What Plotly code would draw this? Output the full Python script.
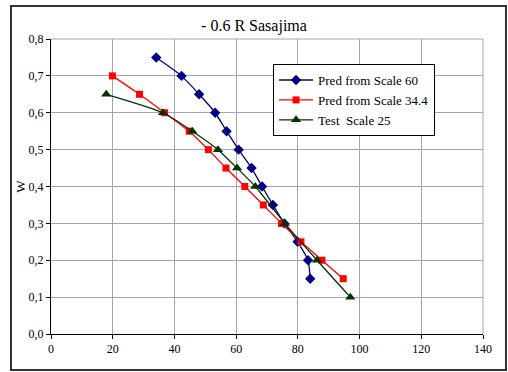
import plotly.graph_objects as go

# Data
blue_x = [34.1, 42.3, 48.0, 53.2, 56.9, 60.8, 65.0, 68.4, 71.9, 75.6, 79.9, 83.3, 84.0]
blue_y = [0.75, 0.70, 0.65, 0.60, 0.55, 0.50, 0.45, 0.40, 0.35, 0.30, 0.25, 0.20, 0.15]

red_x = [19.9, 28.7, 36.8, 44.8, 51.0, 56.7, 62.8, 68.8, 74.7, 81.0, 87.8, 94.7]
red_y = [0.70, 0.65, 0.60, 0.55, 0.50, 0.45, 0.40, 0.35, 0.30, 0.25, 0.20, 0.15]

green_x = [17.9, 36.3, 45.8, 54.1, 60.3, 66.2, 75.8, 86.2, 97.0]
green_y = [0.65, 0.60, 0.55, 0.50, 0.45, 0.40, 0.30, 0.20, 0.10]

names = ["Pred from Scale 60", "Pred from Scale 34.4", "Test  Scale 25"]

FONT = "Liberation Serif, Times New Roman, serif"

fig = go.Figure()
fig.add_trace(go.Scatter(x=blue_x, y=blue_y, name=names[0], mode="lines+markers",
                         line=dict(color="#000080", width=1.3, shape="spline", smoothing=0.6),
                         marker=dict(symbol="diamond", size=8, color="#000080")))
fig.add_trace(go.Scatter(x=red_x, y=red_y, name=names[1], mode="lines+markers",
                         line=dict(color="#ff0000", width=1.3, shape="spline", smoothing=0.6),
                         marker=dict(symbol="square", size=7, color="#ff0000")))
fig.add_trace(go.Scatter(x=green_x, y=green_y, name=names[2], mode="lines+markers",
                         line=dict(color="#003300", width=1.3, shape="spline", smoothing=0.6),
                         marker=dict(symbol="triangle-up", size=9, color="#003300")))

fig.update_layout(
    width=508, height=372,
    margin=dict(l=51, r=25, t=39, b=38),
    paper_bgcolor="white", plot_bgcolor="white",
    separators=", ",
    font=dict(family=FONT, size=12, color="black"),
    title=dict(text="- 0.6 R Sasajima", x=0.5, xanchor="center", y=0.932, yanchor="middle",
               font=dict(family=FONT, size=16, color="black")),
    showlegend=True,
    legend=dict(x=0.514, y=0.915, xanchor="left", yanchor="top",
                bgcolor="white", bordercolor="black", borderwidth=1,
                font=dict(family=FONT, size=13), tracegroupgap=0, itemwidth=34),
    xaxis=dict(range=[0, 140], dtick=20, tick0=0, showgrid=True, gridcolor="#a6a6a6", gridwidth=1,
               showline=True, linecolor="black", linewidth=1, ticks="outside", ticklen=4,
               tickcolor="black", zeroline=False, mirror=False, fixedrange=True),
    yaxis=dict(range=[0, 0.8], dtick=0.1, tick0=0, tickformat=".1f", showgrid=True,
               gridcolor="#a6a6a6", gridwidth=1, showline=True, linecolor="black", linewidth=1,
               ticks="outside", ticklen=4, tickcolor="black", zeroline=False,
               title=dict(text="W", standoff=0, font=dict(family=FONT, size=13))),
)

# outer chart border
fig.add_shape(type="rect", xref="paper", yref="paper",
              x0=-0.0926, x1=1.0532, y0=-0.122, y1=1.112,
              line=dict(color="#333333", width=2), fillcolor="rgba(0,0,0,0)", layer="below")
# top/right plot edges as gridlines
fig.add_shape(type="line", xref="paper", yref="paper", x0=0, x1=1, y0=1, y1=1,
              line=dict(color="#a6a6a6", width=1), layer="below")
fig.add_shape(type="line", xref="paper", yref="paper", x0=1, x1=1, y0=0, y1=1,
              line=dict(color="#a6a6a6", width=1), layer="below")

fig.write_html("out.html")
